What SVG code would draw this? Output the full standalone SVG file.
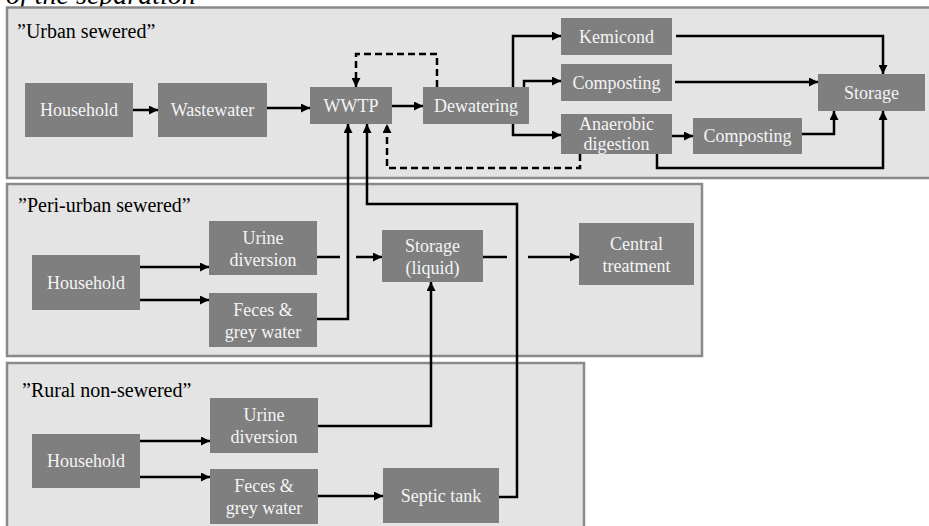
<svg xmlns="http://www.w3.org/2000/svg" width="929" height="526" viewBox="0 0 929 526">
  <style>
    .panel { fill: #e4e4e4; stroke: #8a8a8a; stroke-width: 2.5; }
    .node rect { fill: #7f7f7f; }
    .node text { fill: #f4f4f4; font-size: 18px; text-anchor: middle; }
    .label { fill: #000; font-size: 20px; }
    .title { fill: #000; font-size: 28px; font-style: italic; }
    .link { fill: none; stroke: #000; stroke-width: 2.5; }
    .arrow { marker-end: url(#head); }
    .dash { stroke-dasharray: 7 4; }
  </style>
  <defs>
    <marker id="head" viewBox="0 0 10 10" refX="10" refY="5" markerWidth="9" markerHeight="9" markerUnits="userSpaceOnUse" orient="auto">
      <path d="M0,0 L10,5 L0,10 z" fill="#000"/>
    </marker>
  </defs>

  <rect width="929" height="526" fill="#ffffff"/>

  <g font-family="Liberation Serif, DejaVu Serif, serif">
  <!-- heading, clipped by the top edge -->
  <text class="title" x="6" y="4">of the separation</text>

  <!-- scenario panels -->
  <g id="panels">
    <rect class="panel" x="7" y="7.5" width="930" height="170.5"/>
    <rect class="panel" x="7" y="184" width="695" height="172"/>
    <rect class="panel" x="7" y="363" width="577" height="175"/>
    <text class="label" x="17" y="38">”Urban sewered”</text>
    <text class="label" x="18" y="212">”Peri-urban sewered”</text>
    <text class="label" x="22" y="397">”Rural non-sewered”</text>
  </g>

  <!-- connectors -->
  <g id="connectors">
    <!-- urban -->
    <path class="link arrow" d="M133,110 H158"/>
    <path class="link arrow" d="M267,108 H310"/>
    <path class="link arrow" d="M392,106 H423"/>
    <path class="link arrow dash" d="M437,87 V54 H356 V87"/>
    <path class="link arrow dash" d="M580,154 V168 H387 V124"/>
    <path class="link arrow" d="M513,87 V36 H561"/>
    <path class="link arrow" d="M524,87 V81 H561"/>
    <path class="link arrow" d="M513,124 V135 H561"/>
    <path class="link arrow" d="M676,36 H883 V74"/>
    <path class="link arrow" d="M675,82 H818"/>
    <path class="link arrow" d="M672,136 H693"/>
    <path class="link arrow" d="M802,134 H834 V111"/>
    <path class="link arrow" d="M657,154 V168 H883 V111"/>
    <!-- into WWTP from the other scenarios -->
    <path class="link arrow" d="M317,319 H348 V124"/>
    <path class="link arrow" d="M499,497 H517 V204 H367 V124"/>
    <!-- peri-urban -->
    <path class="link arrow" d="M140,267 H209"/>
    <path class="link arrow" d="M140,300 H209"/>
    <path class="link arrow" d="M317,257 H340 M356,257 H382"/>
    <path class="link arrow" d="M483,257 H507 M528,257 H579"/>
    <!-- rural -->
    <path class="link arrow" d="M318,426 H431 V282"/>
    <path class="link arrow" d="M140,441 H210"/>
    <path class="link arrow" d="M140,477 H210"/>
    <path class="link arrow" d="M318,496 H383"/>
  </g>

  <!-- urban sewered nodes -->
  <g id="u-household" class="node"><rect x="25" y="83" width="108" height="54"/><text x="79" y="116">Household</text></g>
  <g id="u-wastewater" class="node"><rect x="158" y="83" width="109" height="54"/><text x="212.5" y="116">Wastewater</text></g>
  <g id="u-wwtp" class="node"><rect x="310" y="87" width="82" height="37"/><text x="351" y="112">WWTP</text></g>
  <g id="u-dewatering" class="node"><rect x="423" y="87" width="106" height="37"/><text x="476" y="112">Dewatering</text></g>
  <g id="u-kemicond" class="node"><rect x="561" y="18" width="111" height="37"/><text x="616.5" y="43">Kemicond</text></g>
  <g id="u-composting" class="node"><rect x="561" y="64" width="111" height="37"/><text x="616.5" y="89">Composting</text></g>
  <g id="u-anaerobic" class="node"><rect x="561" y="114" width="111" height="40"/><text x="616.5" y="130">Anaerobic</text><text x="616.5" y="150">digestion</text></g>
  <g id="u-composting-2" class="node"><rect x="693" y="118" width="109" height="36"/><text x="747.5" y="142">Composting</text></g>
  <g id="u-storage" class="node"><rect x="818" y="74" width="107" height="37"/><text x="871.5" y="99">Storage</text></g>

  <!-- peri-urban sewered nodes -->
  <g id="p-household" class="node"><rect x="32" y="255" width="108" height="55"/><text x="86" y="289">Household</text></g>
  <g id="p-urine" class="node"><rect x="209" y="221" width="108" height="54"/><text x="263" y="244">Urine</text><text x="263" y="266">diversion</text></g>
  <g id="p-feces" class="node"><rect x="209" y="293" width="108" height="54"/><text x="263" y="316">Feces &amp;</text><text x="263" y="338">grey water</text></g>
  <g id="p-storage" class="node"><rect x="382" y="230" width="101" height="52"/><text x="432.5" y="252">Storage</text><text x="432.5" y="274">(liquid)</text></g>
  <g id="p-central" class="node"><rect x="579" y="223" width="115" height="62"/><text x="636.5" y="250">Central</text><text x="636.5" y="272">treatment</text></g>

  <!-- rural non-sewered nodes -->
  <g id="r-household" class="node"><rect x="32" y="434" width="108" height="54"/><text x="86" y="467">Household</text></g>
  <g id="r-urine" class="node"><rect x="210" y="398" width="108" height="55"/><text x="264" y="421">Urine</text><text x="264" y="443">diversion</text></g>
  <g id="r-feces" class="node"><rect x="210" y="469" width="108" height="55"/><text x="264" y="492">Feces &amp;</text><text x="264" y="514">grey water</text></g>
  <g id="r-septic" class="node"><rect x="383" y="468" width="116" height="55"/><text x="441" y="502">Septic tank</text></g>
  </g>
</svg>
